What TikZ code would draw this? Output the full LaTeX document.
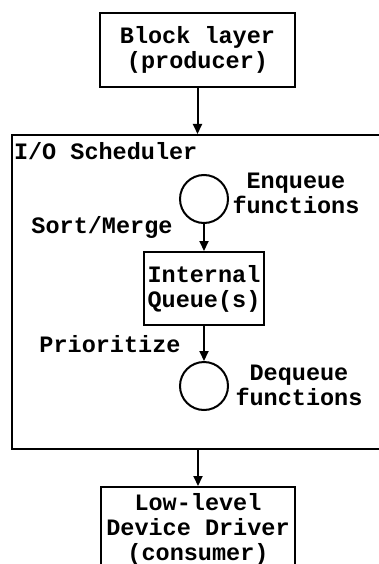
\documentclass[tikz,border=0pt]{standalone}
\usepackage{fontspec}
\setmainfont{Liberation Mono}
\usetikzlibrary{arrows.meta}
\begin{document}
\begin{tikzpicture}[x=1pt,y=-1pt, line width=2pt,
  font=\fontsize{23.5}{25}\selectfont\bfseries,
  box/.style={draw, align=center, inner sep=0pt},
  circ/.style={draw, circle, minimum size=48pt, inner sep=0pt},
  lbl/.style={align=center, inner sep=0pt},
  arr/.style={-{Triangle[length=10pt,width=9pt]}, line width=2pt}]
\useasboundingbox (0,0) rectangle (378,564);
\fill[white] (0,0) rectangle (378,564);
\node[box, minimum width=195pt, minimum height=74pt] (blk) at (197.5,50) {Block layer\\(producer)};
\node[draw, anchor=north west, minimum width=400pt, minimum height=314pt, inner sep=0pt] (sch) at (11,134) {};
\node[lbl, anchor=base west] (schl) at (13,160) {I/O Scheduler};
\node[circ] (enq) at (204,199) {};
\node[lbl] (enql) at (296,193) {Enqueue\\functions};
\node[lbl, anchor=base] (sm) at (102,233) {Sort/Merge};
\node[box, minimum width=120pt, minimum height=73pt] (iq) at (204,288.5) {Internal\\Queue(s)};
\node[lbl, anchor=base] (pr) at (110,352) {Prioritize};
\node[circ] (deq) at (204,386) {};
\node[lbl] (deql) at (299,385) {Dequeue\\functions};
\node[draw, anchor=north, minimum width=194pt, minimum height=120pt, inner sep=0pt] (low) at (198,486) {};
\node[lbl, anchor=north] (lowl) at (198,492) {Low-level\\Device Driver\\(consumer)};
\draw[arr] (blk) -- (sch.north -| blk);
\draw[arr] (enq) -- (iq);
\draw[arr] (iq) -- (deq);
\draw[arr] (sch.south -| low) -- (low);
\end{tikzpicture}
\end{document}
